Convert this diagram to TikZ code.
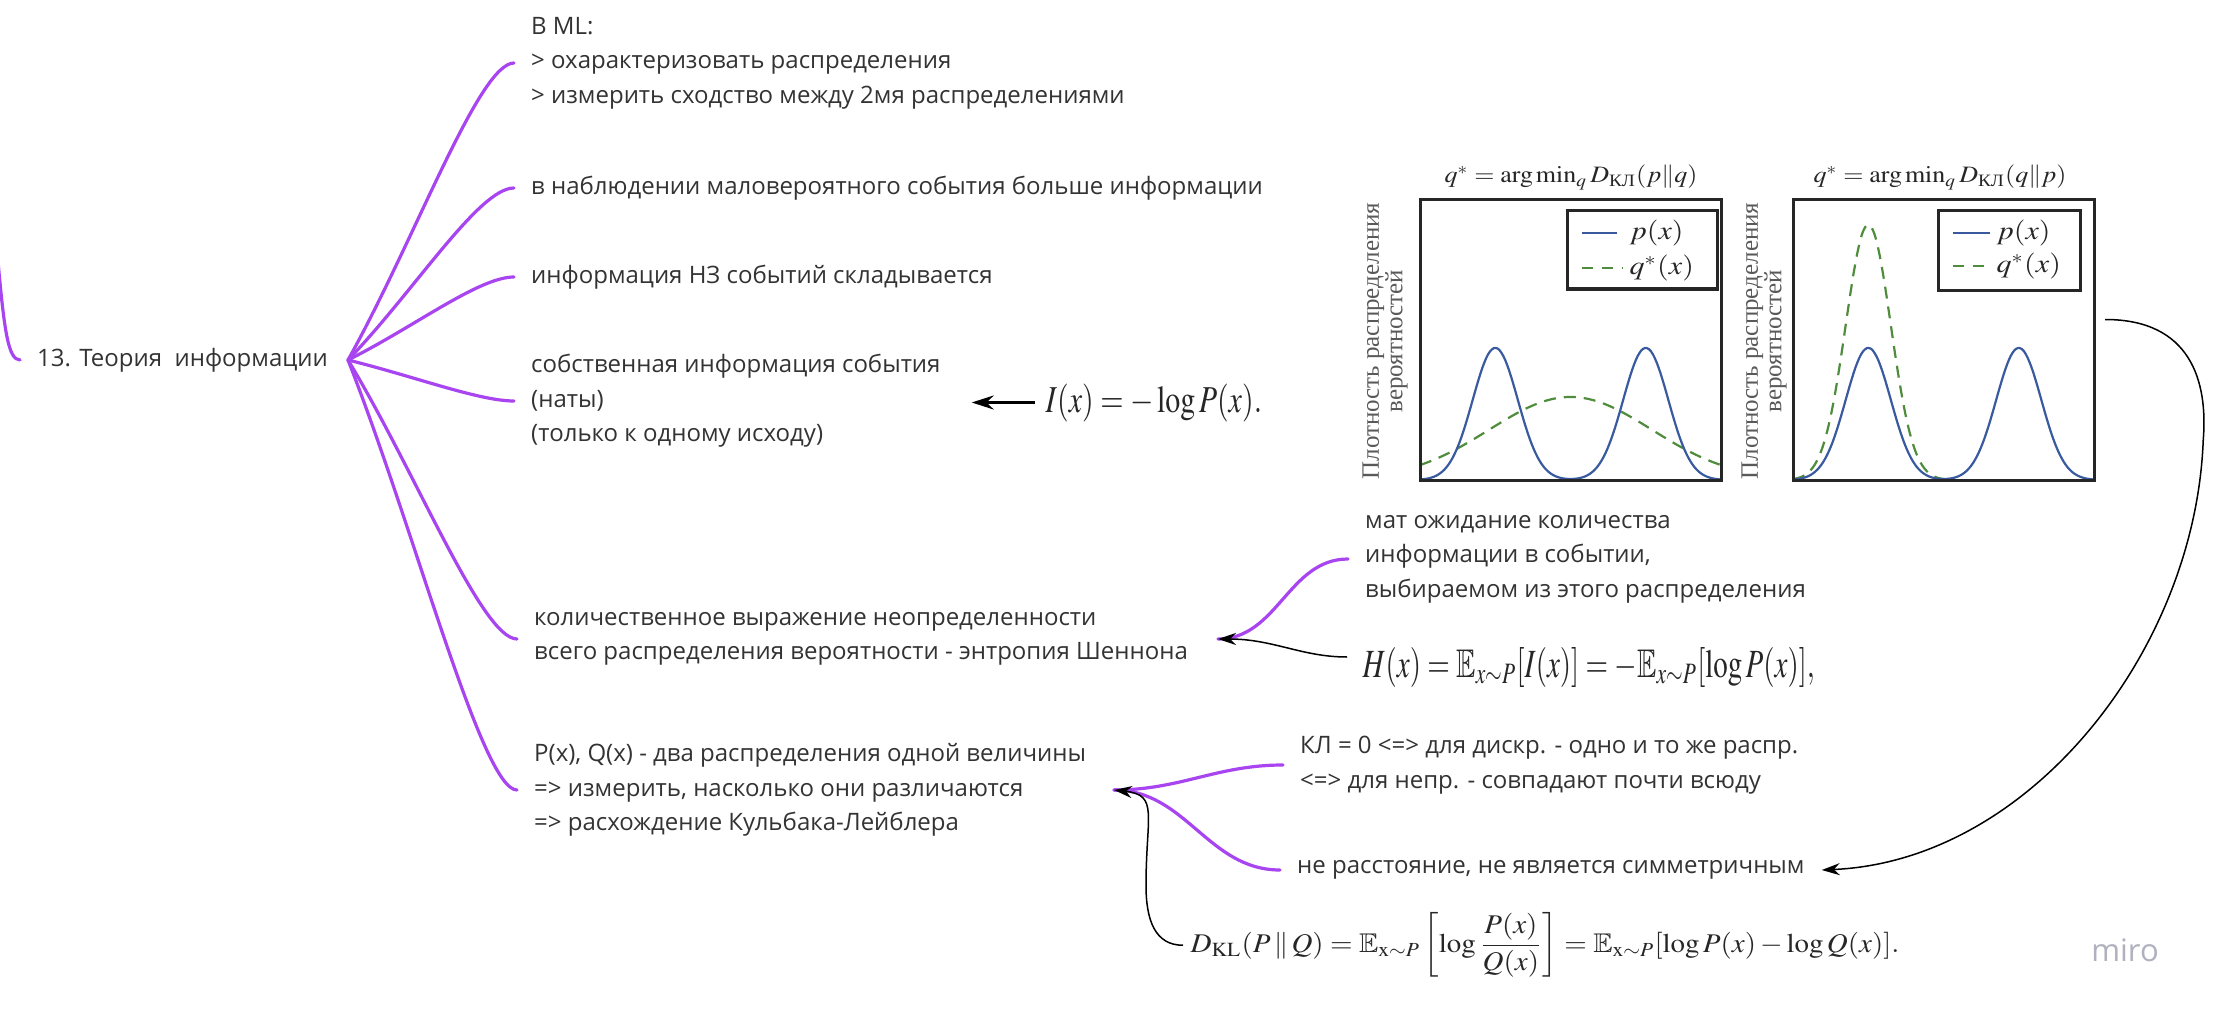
\documentclass[tikz,border=0pt]{standalone}
\usepackage{amsmath,amssymb}
\usepackage{mathptmx}
\usepackage[no-math]{fontspec}
\setmainfont{Open Sans}
\newfontfamily\serif{Liberation Serif}
\usetikzlibrary{calc,arrows.meta}
\definecolor{branchc}{HTML}{A845F0}
\definecolor{txt}{HTML}{333333}
\definecolor{pblue}{HTML}{3A5AA0}
\definecolor{qgreen}{HTML}{4F8C3C}
\definecolor{mirogray}{HTML}{B0B0BE}
\begin{document}
\begin{tikzpicture}[x=1pt,y=-1pt,
  every node/.style={inner sep=0pt},
  txtnode/.style={anchor=west, align=left, inner xsep=17pt, inner ysep=0pt, text=txt, font=\fontsize{24}{34.5}\selectfont},
  formula/.style={anchor=base west, font=\fontsize{10}{12}\selectfont, text=black!85},
  branch/.style={draw=branchc, line width=3.2pt, line cap=round},
  conn/.style={draw=black, line width=1.5pt, -{Stealth[length=18pt,width=12pt]}},
  plotbox/.style={draw=black!85, line width=3pt},
  pcurve/.style={draw=pblue, line width=2.2pt},
  qcurve/.style={draw=qgreen, line width=2.2pt, dash pattern=on 12pt off 8pt},
  ylab/.style={rotate=90, align=center, text=black!65, font=\serif\fontsize{25}{22}\selectfont},
  ptitle/.style={anchor=base, xscale=2.6, yscale=2.35, font=\serif\fontsize{10}{12}\selectfont, text=black!85},
  legtxt/.style={anchor=west, xscale=3.0, yscale=2.6, font=\fontsize{10}{12}\selectfont, text=black!85},
  ]
\useasboundingbox (0,0) rectangle (2213,1016);
\fill[white] (0,0) rectangle (2213,1016);

% ---------- main node and first level ----------
\node[txtnode] (main) at (20,360) {13. Теория~ информации};
\coordinate (parentIn) at (-3,250);
\draw[branch] (parentIn) .. controls (4,330) and (8,360) .. (main.west);
\coordinate (hubMain) at (348,360);

\node[txtnode] (ml) at (514,63) {В ML:\\> охарактеризовать распределения\\> измерить сходство между 2мя распределениями};
\node[txtnode] (obs) at (514,188) {в наблюдении маловероятного события больше информации};
\node[txtnode] (add) at (514,277) {информация НЗ событий складывается};
\node[txtnode] (self) at (514,401) {собственная информация события\\(наты)\\(только к одному исходу)};
\node[txtnode] (ent) at (517,639) {количественное выражение неопределенности\\всего распределения вероятности - энтропия Шеннона};
\node[txtnode] (kl) at (517,790) {P(x), Q(x) - два распределения одной величины\\=> измерить, насколько они различаются\\=> расхождение Кульбака-Лейблера};

\foreach \t in {ml,obs,add,self,ent,kl}{
  \draw[branch] (hubMain) .. controls ($(hubMain)!0.4!(\t.west)$) and ($(\t.west)+(-35,0)$) .. (\t.west);
}

% ---------- formula I(x) ----------
\node[formula, xscale=3.0, yscale=3.8] (Iform) at (1045,412) {$I(x) = -\log P(x).$};
\draw[conn, line width=2.5pt, -{Stealth[length=22pt,width=14pt]}] ($(Iform.west)+(-10,0)$) -- ($(Iform.west -| self.east)+(14,0)$);

% ---------- entropy subtree ----------
\coordinate (hubEnt) at (1218,639);
\node[txtnode] (matexp) at (1348,559) {мат ожидание количества\\информации в событии,\\выбираемом из этого распределения};
\draw[branch] (hubEnt) to[out=0,in=180] (matexp.west);
\node[formula, xscale=2.9, yscale=4.0] (Hform) at (1362,677) {$H(x) = \mathbb{E}_{x\sim P}[I(x)] = -\mathbb{E}_{x\sim P}[\log P(x)],$};
\draw[conn] ($(Hform.west)+(-15,-10)$) .. controls +(-45,0) and +(55,0) .. (hubEnt);

% ---------- KL subtree ----------
\coordinate (hubKL) at (1114,790);
\node[txtnode] (klzero) at (1283,765) {КЛ = 0 <=> для дискр. - одно и то же распр.\\<=> для непр. - совпадают почти всюду};
\node[txtnode] (notdist) at (1280,870) {не расстояние, не является симметричным};
\draw[branch] (hubKL) to[out=0,in=180] (klzero.west);
\draw[branch] (hubKL) to[out=0,in=180] (notdist.west);
\node[formula, xscale=2.9, yscale=2.7] (KLform) at (1190,952) {$\displaystyle D_{\mathrm{KL}}(P\,\|\,Q) = \mathbb{E}_{\mathrm{x}\sim P}\left[\log\frac{P(x)}{Q(x)}\right] = \mathbb{E}_{\mathrm{x}\sim P}[\log P(x) - \log Q(x)].$};
\draw[conn] ($(KLform.west)+(-7,0)$) .. controls +(-28,0) and +(0,35) .. ++(-37,-60) .. controls +(0,-70) and +(45,5) .. (hubKL);

% ---------- plots ----------
\node[minimum width=757pt, minimum height=335pt] (plots) at (1726.5,319.5) {};
% left panel
\node[ptitle] (t1) at (1571,183) {$q^* = \arg\min\nolimits_q D_{\text{КЛ}}(p\|q)$};
\node[ylab] (y1) at (1385,341) {Плотность распределения\\вероятностей};
\draw[qcurve] plot[domain=0:1,samples=120] ({1420+301*\x},{480-83*exp(-((\x-0.5)*(\x-0.5))/0.1458)});
\draw[pcurve] plot[domain=0:1,samples=160] ({1420+301*\x},{480-132*(exp(-((\x-0.25)*(\x-0.25))/0.01125)+exp(-((\x-0.75)*(\x-0.75))/0.01125))});
\draw[plotbox] (1420,200) rectangle (1721,480);
\draw[plotbox, fill=white] (1567,211) rectangle (1717,289);
\draw[pcurve] (1582,233) -- (1617,233);
\draw[qcurve, dash pattern=on 11pt off 9pt] (1582,268) -- (1623,268);
\node[legtxt] (l1p) at (1629,233) {$p(x)$};
\node[legtxt] (l1q) at (1629,268) {$q^*(x)$};
% right panel
\node[ptitle] (t2) at (1940,183) {$q^* = \arg\min\nolimits_q D_{\text{КЛ}}(q\|p)$};
\node[ylab] (y2) at (1764,341) {Плотность распределения\\вероятностей};
\draw[qcurve] plot[domain=0:0.52,samples=120] ({1793+301*\x},{480-255*exp(-((\x-0.25)*(\x-0.25))/0.01125)});
\draw[pcurve] plot[domain=0:1,samples=160] ({1793+301*\x},{480-132*(exp(-((\x-0.25)*(\x-0.25))/0.01125)+exp(-((\x-0.75)*(\x-0.75))/0.01125))});
\draw[plotbox] (1793,200) rectangle (2094,480);
\draw[plotbox, fill=white] (1938,211) rectangle (2080,290);
\draw[pcurve] (1953,233) -- (1990,233);
\draw[qcurve, dash pattern=on 11pt off 9pt] (1953,266) -- (1991,266);
\node[legtxt] (l2p) at (1996,233) {$p(x)$};
\node[legtxt] (l2q) at (1996,266) {$q^*(x)$};

\draw[conn] (plots.east) .. controls +(85,0) and +(5,-60) .. ++(98,121) .. controls +(-8,210) and +(208,-9) .. (notdist.east);

% ---------- watermark ----------
\node[font=\fontsize{31}{31}\selectfont, text=mirogray] (miro) at (2125,950) {miro};
\end{tikzpicture}
\end{document}
